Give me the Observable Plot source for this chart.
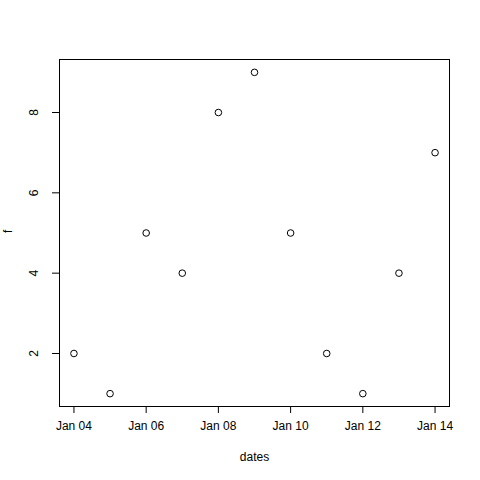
<!DOCTYPE html>
<html>
<head>
<meta charset="utf-8">
<script src="https://cdn.jsdelivr.net/npm/d3@7"></script>
<script src="https://cdn.jsdelivr.net/npm/@observablehq/plot@0.6"></script>
<style>
  html, body { margin: 0; padding: 0; background: #fff; }
</style>
</head>
<body>
<div id="chart"></div>
<script>
const dates = ["2014-01-04","2014-01-05","2014-01-06","2014-01-07","2014-01-08","2014-01-09","2014-01-10","2014-01-11","2014-01-12","2014-01-13","2014-01-14"];
const f = [2, 1, 5, 4, 8, 9, 5, 2, 1, 4, 7];
const xTicks = ["2014-01-04","2014-01-06","2014-01-08","2014-01-10","2014-01-12","2014-01-14"];
const yTicks = [2, 4, 6, 8];

const data = dates.map((d, i) => ({date: new Date(d + "T00:00:00Z"), f: f[i]}));
const xt = xTicks.map(d => new Date(d + "T00:00:00Z"));
const x0 = data[0].date, x1 = data[data.length - 1].date;
const span = x1 - x0;
const xDomain = [new Date(+x0 - 0.04 * span), new Date(+x1 + 0.04 * span)];
const yMin = d3.min(f), yMax = d3.max(f);
const yDomain = [yMin - 0.04 * (yMax - yMin), yMax + 0.04 * (yMax - yMin)];

const chart = Plot.plot({
  width: 480,
  height: 480,
  marginLeft: 59,
  marginRight: 31,
  marginTop: 59,
  marginBottom: 74,
  style: {fontFamily: "'Liberation Sans', Arial, Helvetica, sans-serif", fontSize: "12px", background: "#fff", color: "#000"},
  x: {type: "utc", domain: xDomain},
  y: {domain: yDomain},
  marks: [
    Plot.frame({stroke: "#000", strokeWidth: 1}),
    Plot.axisX({ticks: xt, tickSize: 7, tickPadding: 8, tickFormat: d3.utcFormat("Jan %d"), label: null, fontSize: 12}),
    Plot.axisY({ticks: yTicks, tickSize: 7, tickFormat: () => "", label: null}),
    Plot.text(yTicks, {y: d => d, text: d => String(d), frameAnchor: "left", dx: -25, rotate: -90, textAnchor: "middle", lineAnchor: "middle", fontSize: 12}),
    Plot.text(["dates"], {frameAnchor: "bottom", dy: 51, text: d => d, lineAnchor: "middle", fontSize: 12}),
    Plot.text(["f"], {frameAnchor: "left", dx: -51, rotate: -90, text: d => d, lineAnchor: "middle", fontSize: 12}),
    Plot.dot(data, {x: "date", y: "f", r: 3.3, stroke: "#000", fill: "none", strokeWidth: 1})
  ]
});
document.getElementById("chart").appendChild(chart);
</script>
</body>
</html>
